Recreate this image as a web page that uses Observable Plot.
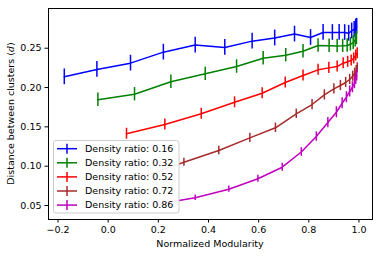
<!DOCTYPE html>
<html><head><meta charset="utf-8">
<script src="https://cdn.jsdelivr.net/npm/d3@7"></script>
<script src="https://cdn.jsdelivr.net/npm/@observablehq/plot@0.6"></script>
<style>body{margin:0;background:#fff}</style>
</head><body><div id="chart"></div>
<script>
const seriesNames = ["Density ratio: 0.16","Density ratio: 0.32","Density ratio: 0.52","Density ratio: 0.72","Density ratio: 0.86"];
const seriesColors = ["#0000ff","#008000","#ff0000","#a52a2a","#bf00bf"];

const x016 = [-0.175,-0.045,0.089,0.220,0.347,0.465,0.574,0.664,0.743,0.807,0.857,0.894,0.921,0.943,0.959,0.971,0.981,0.987,0.991];
const y016 = [0.2136,0.223,0.231,0.245,0.254,0.251,0.259,0.263,0.268,0.2636,0.270,0.270,0.270,0.270,0.269,0.272,0.274,0.277,0.278];
const e016 = [0.010,0.010,0.010,0.010,0.010,0.010,0.010,0.010,0.010,0.010,0.010,0.010,0.010,0.010,0.010,0.010,0.010,0.010,0.010];

const x032 = [-0.041,0.105,0.250,0.387,0.512,0.618,0.708,0.777,0.837,0.881,0.913,0.935,0.953,0.966,0.977,0.985,0.990];
const y032 = [0.1844,0.1915,0.2073,0.2174,0.2267,0.2373,0.2411,0.2462,0.2534,0.2532,0.2528,0.253,0.2535,0.255,0.257,0.260,0.263];
const e032 = [0.0085,0.0085,0.0085,0.0085,0.0085,0.0085,0.0085,0.0085,0.0085,0.0085,0.0085,0.0085,0.0085,0.0085,0.0085,0.0085,0.0085];

const x052 = [0.073,0.226,0.371,0.504,0.614,0.706,0.777,0.837,0.880,0.913,0.937,0.955,0.969,0.979,0.987,0.993];
const y052 = [0.1412,0.153,0.1666,0.1813,0.1928,0.2064,0.2153,0.2225,0.225,0.2267,0.231,0.2327,0.2344,0.237,0.2407,0.2436];
const e052 = [0.007,0.007,0.007,0.007,0.007,0.007,0.007,0.007,0.007,0.007,0.007,0.007,0.007,0.007,0.007,0.007];

const x072 = [0.16,0.302,0.441,0.565,0.667,0.750,0.813,0.862,0.900,0.926,0.947,0.963,0.975,0.983,0.989,0.993];
const y072 = [0.089,0.105,0.120,0.136,0.1488,0.1666,0.1784,0.1907,0.1984,0.2026,0.2064,0.2102,0.2144,0.2182,0.2216,0.225];
const e072 = [0.005,0.005,0.0055,0.006,0.006,0.006,0.0065,0.0065,0.0065,0.0065,0.0065,0.0065,0.0065,0.0065,0.0065,0.0065];

const x086 = [0.20,0.347,0.481,0.597,0.694,0.770,0.830,0.876,0.910,0.933,0.950,0.963,0.974,0.982,0.987,0.991];
const y086 = [0.052,0.0598,0.0707,0.084,0.0987,0.118,0.1377,0.1555,0.1686,0.180,0.1877,0.195,0.2004,0.2055,0.211,0.2153];
const e086 = [0.003,0.0035,0.004,0.0045,0.005,0.0055,0.006,0.0065,0.007,0.007,0.007,0.007,0.007,0.007,0.007,0.007];

const xTicks = [-0.2,0.0,0.2,0.4,0.6,0.8,1.0];
const yTicks = [0.05,0.10,0.15,0.20,0.25];

const allX = [x016,x032,x052,x072,x086];
const allY = [y016,y032,y052,y072,y086];
const allE = [e016,e032,e052,e072,e086];
const rows = [];
allX.forEach((xs,s)=>xs.forEach((x,i)=>rows.push({series:seriesNames[s], x, y:allY[s][i], e:allE[s][i]})));

const font = "DejaVu Sans";
const fs = 9.5;
const plot = Plot.plot({
  width: 382, height: 256,
  marginLeft: 48, marginRight: 10, marginTop: 8, marginBottom: 37,
  style: {fontFamily: font, fontSize: fs+"px", color: "black", background: "white"},
  x: {domain: [-0.238, 1.054], ticks: xTicks, tickFormat: d => d3.format(".1f")(d).replace("-", "\u2212"), label: null, tickSize: 3.5, tickPadding: 3.5},
  y: {domain: [0.0322, 0.3005], ticks: yTicks, tickFormat: d3.format(".2f"), label: null, tickSize: 3.5, tickPadding: 3.5},
  color: {domain: seriesNames, range: seriesColors},
  marks: [
    Plot.line(rows, {x: "x", y: "y", z: "series", stroke: "series", strokeWidth: 1.5}),
    Plot.ruleX(rows, {x: "x", y1: d => d.y - d.e, y2: d => d.y + d.e, stroke: "series", strokeWidth: 1.5}),
    Plot.frame({stroke: "black", strokeWidth: 1})
  ]
});
document.getElementById("chart").appendChild(plot);

const svg = d3.select(plot);
svg.selectAll("text").attr("fill", "black");
// axis labels
svg.append("text").attr("x", 210).attr("y", 246.5).attr("text-anchor", "middle")
  .attr("font-family", font).attr("font-size", fs).attr("fill", "black").text("Normalized Modularity");
const yl = svg.append("text").attr("transform", "translate(13.5,113.5) rotate(-90)").attr("text-anchor", "middle")
  .attr("font-family", font).attr("font-size", fs).attr("fill", "black");
yl.append("tspan").text("Distance between clusters (");
yl.append("tspan").attr("font-style", "italic").attr("font-family", "DejaVu Serif").text("d");
yl.append("tspan").text(")");

// legend
const lg = svg.append("g").attr("text-anchor", "start");
lg.append("rect").attr("x", 53.5).attr("y", 140.5).attr("width", 125.5).attr("height", 72.5).attr("rx", 2.5)
  .attr("fill", "white").attr("fill-opacity", 0.92).attr("stroke", "#cccccc").attr("stroke-width", 1);
seriesNames.forEach((name, i) => {
  const cy = 148.7 + i * 14.1;
  lg.append("line").attr("x1", 57).attr("x2", 77).attr("y1", cy).attr("y2", cy).attr("stroke", seriesColors[i]).attr("stroke-width", 1.5);
  lg.append("line").attr("x1", 67).attr("x2", 67).attr("y1", cy - 5).attr("y2", cy + 5).attr("stroke", seriesColors[i]).attr("stroke-width", 1.5);
  lg.append("text").attr("x", 85).attr("y", cy).attr("dy", "0.35em").attr("text-anchor", "start").attr("font-family", font).attr("font-size", fs).attr("fill", "black").text(name);
});
</script>
</body></html>
